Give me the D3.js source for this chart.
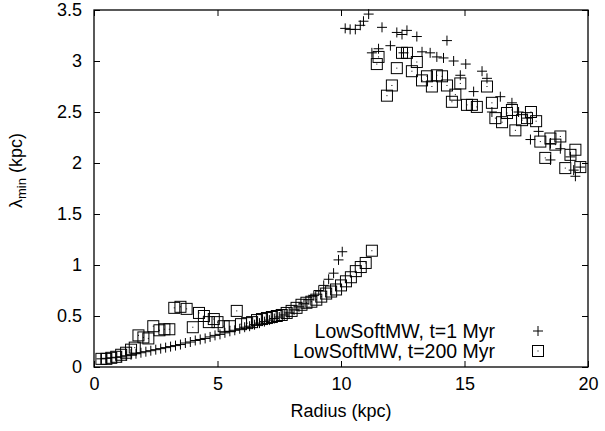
<!DOCTYPE html>
<html><head><meta charset="utf-8">
<script src="https://cdn.jsdelivr.net/npm/d3@7"></script>
<style>
html,body{margin:0;padding:0;background:#fff;}
svg{display:block;font-family:"Liberation Sans",Arial,Helvetica,sans-serif;}
</style></head>
<body>
<svg id="chart" width="605" height="431"></svg>
<script>
// ---- data ----
const xTicks = [0, 5, 10, 15, 20];
const yTicks = [0, 0.5, 1, 1.5, 2, 2.5, 3, 3.5];
const seriesLabels = ["LowSoftMW, t=1 Myr", "LowSoftMW, t=200 Myr"];

// t=1 Myr (plus markers): radius (kpc), lambda_min (kpc)
const r1 = [0.3,0.5,0.7,0.9,1.1,1.3,1.5,1.7,1.9,2.1,2.3,2.5,2.7,2.9,3.1,3.3,3.5,3.7,3.9,4.1,4.3,4.5,4.7,4.9,5.1,5.3,5.5,5.7,5.9,6.1,6.3,6.5,6.7,6.9,7.1,7.3,7.5,7.7,7.9,8.1,8.3,8.5,8.7,8.9,9.1,9.3,9.5,9.7,9.9,10.05,
  10.17,10.37,10.58,10.78,10.91,11.12,11.25,11.52,11.66,12.0,12.26,12.47,12.53,12.67,13.07,13.28,13.61,13.88,14.15,14.29,14.56,14.83,15.05,15.37,15.71,15.91,16.11,16.45,16.92,17.19,17.53,17.67,18.0,18.48,18.48,18.88,19.29,19.42,19.49,19.69];
const v1 = [0.08,0.085,0.09,0.095,0.10,0.11,0.12,0.13,0.14,0.15,0.16,0.17,0.18,0.19,0.20,0.21,0.22,0.235,0.245,0.26,0.27,0.28,0.295,0.31,0.32,0.335,0.35,0.36,0.375,0.39,0.40,0.415,0.43,0.445,0.46,0.475,0.49,0.51,0.53,0.56,0.59,0.62,0.66,0.70,0.75,0.80,0.86,0.92,1.05,1.13,
  3.32,3.31,3.31,3.35,3.39,3.46,3.08,3.12,3.33,3.15,3.28,3.26,3.08,3.30,3.24,3.09,3.08,3.04,3.03,3.20,3.00,2.86,2.97,2.70,2.90,2.83,2.50,2.65,2.59,2.50,2.44,2.23,2.31,2.19,2.03,2.14,2.06,1.93,1.87,1.96];

// t=200 Myr (square markers)
const r2 = [0.3,0.5,0.7,0.9,1.1,1.3,1.5,1.65,1.8,2.0,2.2,2.4,2.65,2.85,3.05,3.25,3.5,3.75,4.0,4.25,4.45,4.65,4.85,5.0,5.25,5.5,5.78,5.95,6.2,6.4,6.6,6.8,7.0,7.2,7.4,7.6,7.8,8.0,8.2,8.4,8.6,8.8,9.0,9.2,9.4,9.6,9.8,10.0,10.2,10.4,10.6,10.8,11.0,11.25,
  11.45,11.52,11.86,12.06,12.26,12.47,12.67,12.87,13.07,13.28,13.48,13.68,13.88,14.09,14.29,14.49,14.63,14.83,15.1,15.3,15.5,15.91,16.11,16.25,16.52,16.72,16.92,17.06,17.33,17.53,17.69,17.9,18.07,18.27,18.48,18.68,18.88,19.08,19.29,19.49,19.69];
const v2 = [0.08,0.08,0.09,0.10,0.12,0.14,0.17,0.19,0.31,0.29,0.28,0.40,0.36,0.37,0.37,0.58,0.59,0.57,0.39,0.53,0.50,0.44,0.47,0.44,0.40,0.40,0.55,0.42,0.43,0.44,0.46,0.47,0.48,0.49,0.50,0.51,0.53,0.55,0.58,0.61,0.63,0.64,0.66,0.69,0.72,0.74,0.76,0.80,0.84,0.88,0.94,0.98,1.02,1.14,
  2.97,3.04,2.66,2.76,2.93,3.08,3.08,2.90,2.99,2.81,2.85,2.75,2.86,2.85,2.76,2.60,2.67,2.78,2.57,2.57,2.55,2.75,2.59,2.44,2.40,2.49,2.52,2.32,2.42,2.44,2.50,2.41,2.21,2.05,2.24,2.18,2.26,1.95,2.08,2.13,1.96];

// ---- layout ----
const m = {left: 94, right: 588, top: 10, bottom: 367};
const svg = d3.select("#chart");
const x = d3.scaleLinear().domain([0, 20]).range([m.left, m.right]);
const y = d3.scaleLinear().domain([0, 3.5]).range([m.bottom, m.top]);
const fs = 18;
const legFs = 19.5;
const tickLen = 6;

// frame
svg.append("rect").attr("x", m.left).attr("y", m.top)
  .attr("width", m.right - m.left).attr("height", m.bottom - m.top)
  .attr("fill", "none").attr("stroke", "#000").attr("stroke-width", 1.3);

// axes (inward ticks, mirrored)
const axB = d3.axisBottom(x).tickValues(xTicks).tickSizeInner(-tickLen).tickSizeOuter(0).tickPadding(10).tickFormat(d3.format("d"));
const axT = d3.axisTop(x).tickValues(xTicks).tickSizeInner(-tickLen).tickSizeOuter(0).tickFormat("");
const axL = d3.axisLeft(y).tickValues(yTicks).tickSizeInner(-tickLen).tickSizeOuter(0).tickPadding(12).tickFormat(d => String(d));
const axR = d3.axisRight(y).tickValues(yTicks).tickSizeInner(-tickLen).tickSizeOuter(0).tickFormat("");

function styleAxis(g){
  g.select(".domain").remove();
  g.selectAll(".tick line").attr("stroke", "#000").attr("stroke-width", 1);
  g.selectAll(".tick text").attr("fill", "#000").style("font-size", fs + "px")
    .style("font-family", '"Liberation Sans",Arial,sans-serif');
}
svg.append("g").attr("transform", `translate(0,${m.bottom})`).call(axB).call(styleAxis);
svg.append("g").attr("transform", `translate(0,${m.top})`).call(axT).call(styleAxis);
svg.append("g").attr("transform", `translate(${m.left},0)`).call(axL).call(styleAxis);
svg.append("g").attr("transform", `translate(${m.right},0)`).call(axR).call(styleAxis);

// axis titles
svg.append("text").attr("x", (m.left + m.right) / 2).attr("y", 417)
  .attr("text-anchor", "middle").style("font-size", fs + "px").text("Radius (kpc)");
const yl = svg.append("text").attr("transform", `translate(22,${(m.top + m.bottom) / 2 - 18}) rotate(-90)`)
  .attr("text-anchor", "middle").style("font-size", fs + "px");
yl.append("tspan").text("λ");
yl.append("tspan").attr("dy", 4).style("font-size", "13px").text("min");
yl.append("tspan").attr("dy", -4).text(" (kpc)");

// markers
const plotG = svg.append("g");
const d1 = r1.map((r, i) => ({r, v: v1[i]}));
const d2 = r2.map((r, i) => ({r, v: v2[i]}));
const ps = 5; // plus half-size
const sq = 5.5; // square half-size

function drawPlus(g, cx, cy){
  g.append("path").attr("d", `M${cx - ps},${cy}H${cx + ps}M${cx},${cy - ps}V${cy + ps}`)
    .attr("stroke", "#000").attr("stroke-width", 1).attr("fill", "none");
}
function drawSquare(g, cx, cy){
  g.append("rect").attr("x", cx - sq).attr("y", cy - sq).attr("width", 2 * sq).attr("height", 2 * sq)
    .attr("fill", "none").attr("stroke", "#000").attr("stroke-width", 1);
  g.append("rect").attr("x", cx - 0.5).attr("y", cy - 0.5).attr("width", 1).attr("height", 1).attr("fill", "#000");
}
d1.forEach(d => drawPlus(plotG, x(d.r), y(d.v)));
d2.forEach(d => drawSquare(plotG, x(d.r), y(d.v)));

// legend
const lg = svg.append("g");
const legY = [331, 351];
const legTextX = 495, legMarkX = 538;
seriesLabels.forEach((t, i) => {
  lg.append("text").attr("x", legTextX).attr("y", legY[i]).attr("dy", "0.35em")
    .attr("text-anchor", "end").style("font-size", legFs + "px").text(t);
});
drawPlus(lg, legMarkX, legY[0]);
drawSquare(lg, legMarkX, legY[1]);
</script>
</body></html>
